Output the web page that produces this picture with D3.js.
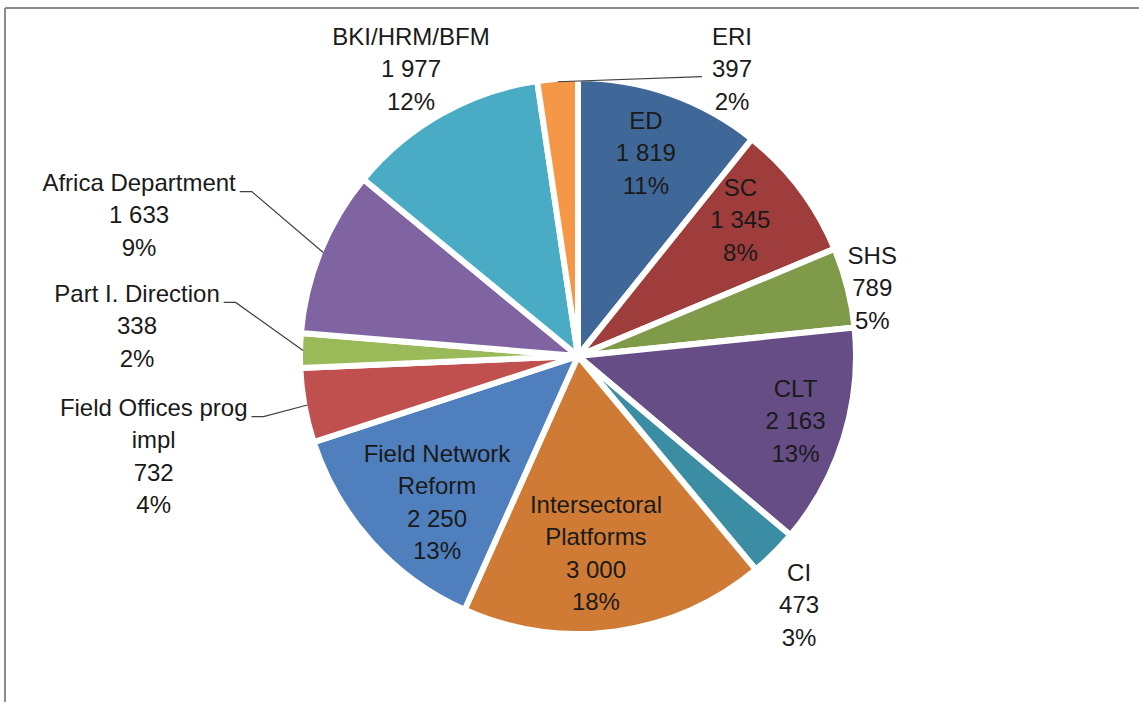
<!DOCTYPE html>
<html lang="en">
<head>
<meta charset="utf-8" />
<title>Budget by sector</title>
<script src="https://d3js.org/d3.v7.min.js"></script>
<style>
  body { margin: 0; background: #fff; }
  text { font-family: "Liberation Sans", Arial, sans-serif; font-size: 24px; fill: #1a1a1a; }
</style>
</head>
<body>
<div id="chart"></div>
<script>
// data, clockwise from 12 o'clock
var names = ['ED', 'SC', 'SHS', 'CLT', 'CI', 'Intersectoral Platforms', 'Field Network Reform',
  'Field Offices prog impl', 'Part I. Direction', 'Africa Department', 'BKI/HRM/BFM', 'ERI'];
var values = [1819, 1345, 789, 2163, 473, 3000, 2250, 732, 338, 1633, 1977, 397];
var colors = ['#3F6898', '#9E3D3B', '#7F9A48', '#664D85', '#3A8DA2', '#CF7B36', '#4F7FBC',
  '#BF504D', '#9ABA59', '#7F64A1', '#4AABC5', '#F59747'];
// how the label text is broken into lines
var labelLines = [['ED'], ['SC'], ['SHS'], ['CLT'], ['CI'], ['Intersectoral', 'Platforms'],
  ['Field Network', 'Reform'], ['Field Offices prog', 'impl'], ['Part I. Direction'],
  ['Africa Department'], ['BKI/HRM/BFM'], ['ERI']];

var width = 1139, height = 702;
var cx = 578, cy = 356, radius = 278;

// label placement: polar angle (deg) and distance from centre, leader line yes/no
var labelPos = [[18.5, 214], [50, 212], [77, 302], [106.6, 227], [138.4, 333], [174.8, 198],
  [224, 203], [256.7, 436], [273.9, 442], [287.8, 461], [329.8, 332], [28.2, 326]];
var leader = [0, 0, 0, 0, 0, 0, 0, 1, 1, 1, 0, 1];

var total = d3.sum(values);

// Excel-like percentages that add up to 100
var raw = values.map(function(v) { return v / total * 100; });
var pct = raw.map(Math.floor);
var left = 100 - d3.sum(pct);
d3.range(values.length)
  .sort(function(a, b) { return (raw[b] - pct[b]) - (raw[a] - pct[a]); })
  .slice(0, left)
  .forEach(function(i) { pct[i] += 1; });

var fmt = function(v) { return d3.format(',')(v).replace(/,/g, ' '); };

var svg = d3.select('#chart').append('svg')
  .attr('width', width)
  .attr('height', height);

// chart frame (only top and left edges are in the picture)
svg.append('line').attr('x1', 5).attr('y1', 8).attr('x2', width).attr('y2', 8)
  .attr('stroke', '#8c8c8c').attr('stroke-width', 2);
svg.append('line').attr('x1', 5).attr('y1', 8).attr('x2', 5).attr('y2', height)
  .attr('stroke', '#8c8c8c').attr('stroke-width', 2);

var g = svg.append('g').attr('transform', 'translate(' + cx + ',' + cy + ')');

var pie = d3.pie().value(function(d) { return d; }).sort(null);
var arcs = pie(values);

var arc = d3.arc().innerRadius(0).outerRadius(radius);
var edgeArc = d3.arc().innerRadius(radius - 3).outerRadius(radius - 3);

g.selectAll('path')
  .data(arcs)
  .enter()
  .append('path')
  .attr('d', arc)
  .attr('fill', function(d, i) { return colors[i]; })
  .attr('stroke', '#fff')
  .attr('stroke-width', 6)
  .attr('stroke-linejoin', 'round');

var lineH = 32.5;

arcs.forEach(function(d, i) {
  var a = labelPos[i][0] * Math.PI / 180, r = labelPos[i][1];
  var x = r * Math.sin(a), y = -r * Math.cos(a);
  var lines = labelLines[i].concat([fmt(values[i]), pct[i] + '%']);
  var top = y - (lines.length - 1) * lineH / 2;
  var t = g.append('text')
    .attr('text-anchor', 'middle');
  lines.forEach(function(s, k) {
    t.append('tspan')
      .attr('x', x)
      .attr('y', top + k * lineH)
      .attr('dy', '0.35em')
      .text(s);
  });

  if (leader[i]) {
    var end = edgeArc.centroid(d);
    var bb = t.node().getBBox();
    var pts;
    if (x < 0) {
      // stub off the right end of the first line
      var first = t.select('tspan').node().getComputedTextLength();
      var sx = x + first / 2 + 4, sy = top + 9;
      pts = [[sx, sy], [sx + 12, sy], end];
    } else {
      var sx2 = bb.x - 10, sy2 = top + lineH + 8;
      pts = [[sx2, sy2], end];
    }
    g.append('path')
      .attr('d', d3.line()(pts))
      .attr('fill', 'none')
      .attr('stroke', '#404040')
      .attr('stroke-width', 1.2);
  }
});
</script>
</body>
</html>
